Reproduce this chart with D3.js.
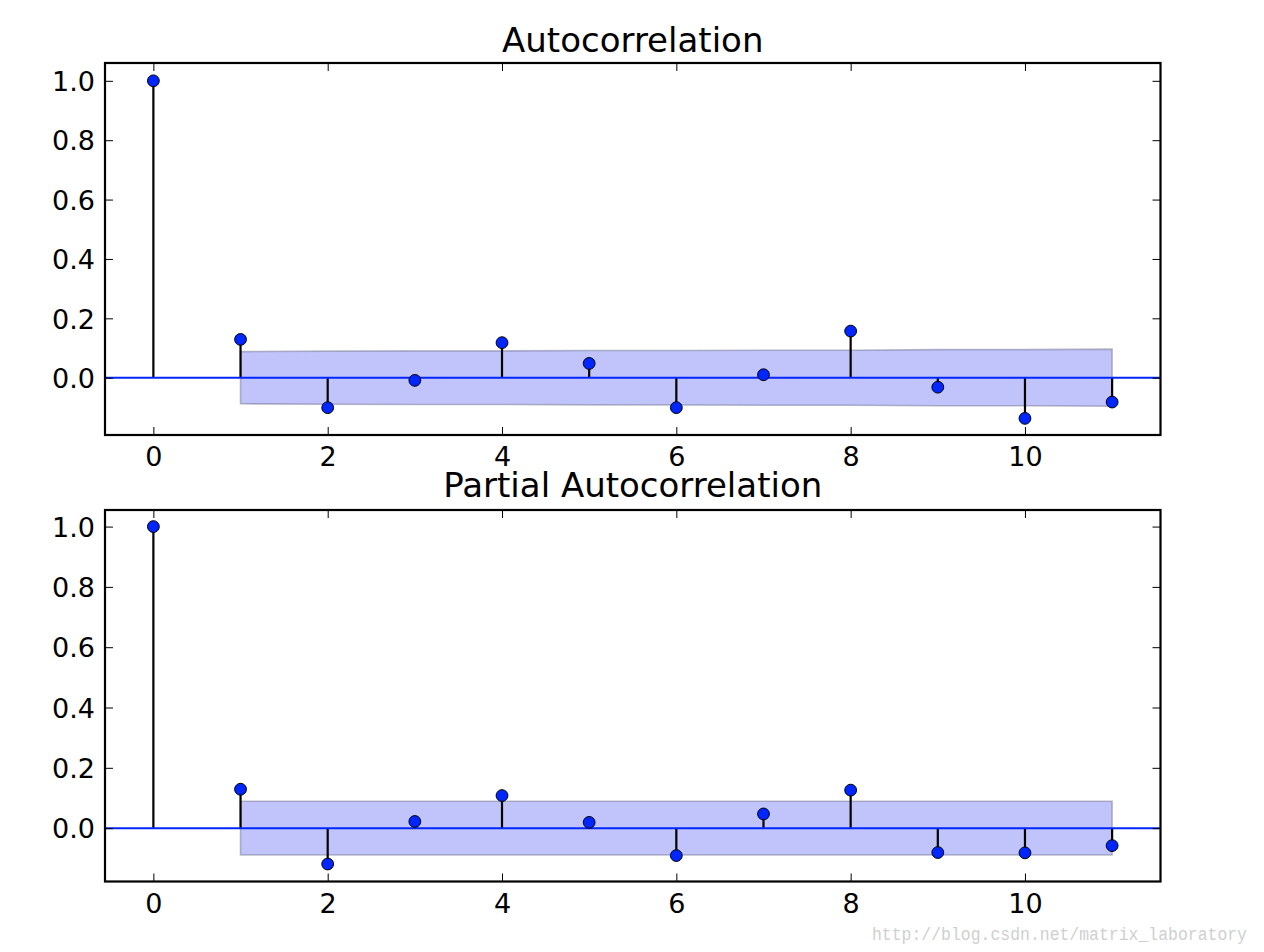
<!DOCTYPE html>
<html>
<head>
<meta charset="utf-8">
<script src="https://cdn.jsdelivr.net/npm/d3@7"></script>
<style>
  html, body { margin: 0; padding: 0; background: #fff; }
  svg { display: block; }
</style>
</head>
<body>
<svg id="chart" width="1264" height="952"></svg>
<script>
// ---- data ----
const lags = [0, 1, 2, 3, 4, 5, 6, 7, 8, 9, 10, 11];
const acfValues = [1.0, 0.129, -0.101, -0.009, 0.118, 0.048, -0.101, 0.010, 0.157, -0.032, -0.137, -0.082];
const acfBandLags = [1, 2, 3, 4, 5, 6, 7, 8, 9, 10, 11];
const acfBand = [0.088, 0.0895, 0.0903, 0.0903, 0.0915, 0.0917, 0.0926, 0.0926, 0.0946, 0.0947, 0.0962];
const pacfValues = [1.0, 0.129, -0.119, 0.022, 0.108, 0.019, -0.091, 0.047, 0.126, -0.081, -0.082, -0.058];
const pacfBandLags = [1, 2, 3, 4, 5, 6, 7, 8, 9, 10, 11];
const pacfBand = [0.089, 0.089, 0.089, 0.089, 0.089, 0.089, 0.089, 0.089, 0.089, 0.089, 0.089];
const xTicks = [0, 2, 4, 6, 8, 10];
const yTicks = [0.0, 0.2, 0.4, 0.6, 0.8, 1.0];
const titles = ["Autocorrelation", "Partial Autocorrelation"];
const watermark = "http://blog.csdn.net/matrix_laboratory";

const svg = d3.select("#chart");
const FONT = "DejaVu Sans, sans-serif";
const BLUE = "#0026ff";

function panel(cfg) {
  const x = d3.scaleLinear().domain([-0.555, 11.555]).range([105, 1160.5]);
  const y = d3.scaleLinear().domain(cfg.yDomain).range([cfg.bottom, cfg.top]);
  const g = svg.append("g");
  const x0 = x.range()[0], x1 = x.range()[1];

  // confidence band
  const area = d3.area()
    .x((d, i) => x(cfg.bandLags[i]))
    .y0(d => y(-d))
    .y1(d => y(d));
  g.append("path").datum(cfg.band)
    .attr("d", area)
    .attr("fill", "rgb(192,196,250)")
    .attr("stroke", "rgba(90,90,120,0.4)")
    .attr("stroke-width", 1.6);

  // stems
  g.selectAll("line.stem").data(cfg.values).enter().append("line")
    .attr("class", "stem")
    .attr("x1", (d, i) => x(lags[i])).attr("x2", (d, i) => x(lags[i]))
    .attr("y1", y(0)).attr("y2", d => y(d))
    .attr("stroke", "#000").attr("stroke-width", 2.2);

  // zero line
  g.append("line")
    .attr("x1", x0).attr("x2", x1)
    .attr("y1", y(0)).attr("y2", y(0))
    .attr("stroke", BLUE).attr("stroke-width", 2);

  // markers
  g.selectAll("circle").data(cfg.values).enter().append("circle")
    .attr("cx", (d, i) => x(lags[i])).attr("cy", d => y(d))
    .attr("r", 5.9)
    .attr("fill", BLUE).attr("stroke", "#000").attr("stroke-width", 1);

  // axes (ticks inside)
  const tickStyle = sel => {
    sel.select(".domain").remove();
    sel.selectAll(".tick line").attr("stroke", "#000").attr("stroke-width", 1);
    sel.selectAll(".tick text").attr("font-family", FONT).attr("font-size", 27).attr("fill", "#000");
  };
  g.append("g").attr("transform", `translate(0,${cfg.bottom})`)
    .call(d3.axisBottom(x).tickValues(xTicks).tickFormat(d3.format("d")).tickSizeInner(-8).tickPadding(12))
    .call(tickStyle)
    .call(s => s.selectAll(".tick text").attr("y", 31).attr("dy", null).attr("dominant-baseline", "auto"));
  g.append("g").attr("transform", `translate(0,${cfg.top})`)
    .call(d3.axisTop(x).tickValues(xTicks).tickSizeInner(-8).tickFormat(""))
    .call(tickStyle);
  g.append("g").attr("transform", `translate(${x0},0)`)
    .call(d3.axisLeft(y).tickValues(yTicks).tickFormat(d3.format(".1f")).tickSizeInner(-8).tickPadding(10))
    .call(tickStyle)
    .call(s => s.selectAll(".tick text").attr("x", -10).attr("dy", "0.36em"));
  g.append("g").attr("transform", `translate(${x1},0)`)
    .call(d3.axisRight(y).tickValues(yTicks).tickSizeInner(-8).tickFormat(""))
    .call(tickStyle);

  // frame
  g.append("rect")
    .attr("x", x0).attr("y", cfg.top)
    .attr("width", x1 - x0).attr("height", cfg.bottom - cfg.top)
    .attr("fill", "none").attr("stroke", "#000").attr("stroke-width", 2.2);

  // title
  g.append("text")
    .attr("x", (x0 + x1) / 2).attr("y", cfg.titleY)
    .attr("text-anchor", "middle")
    .attr("font-family", FONT).attr("font-size", 34)
    .attr("fill", "#000")
    .text(cfg.title);
}

panel({ values: acfValues, band: acfBand, bandLags: acfBandLags, title: titles[0],
        top: 63, bottom: 435, yDomain: [-0.193, 1.060], titleY: 52 });
panel({ values: pacfValues, band: pacfBand, bandLags: pacfBandLags, title: titles[1],
        top: 510, bottom: 881.5, yDomain: [-0.177, 1.055], titleY: 497 });

svg.append("text")
  .attr("x", 872).attr("y", 940)
  .attr("font-family", "Liberation Mono, monospace")
  .attr("font-size", 19)
  .attr("textLength", 375).attr("lengthAdjust", "spacingAndGlyphs")
  .attr("fill", "#cfcfcf")
  .text(watermark);
</script>
</body>
</html>
